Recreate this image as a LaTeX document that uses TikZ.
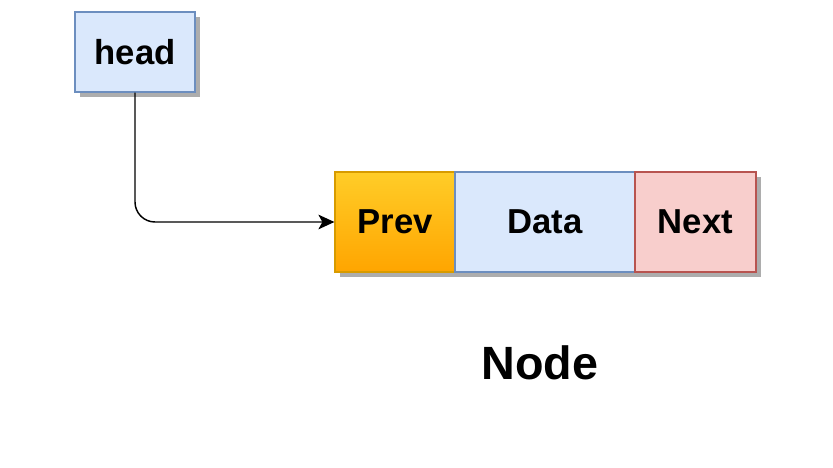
\documentclass[tikz,border=0pt]{standalone}
\usepackage{fontspec}
\setmainfont{Liberation Sans}
\usepackage{xcolor}
\usetikzlibrary{positioning,shadows,arrows.meta}

\definecolor{bluefill}{HTML}{DAE8FC}
\definecolor{blueline}{HTML}{6C8EBF}
\definecolor{redfill}{HTML}{F8CECC}
\definecolor{redline}{HTML}{B85450}
\definecolor{orangetop}{HTML}{FFCD28}
\definecolor{orangebot}{HTML}{FFA500}
\definecolor{orangeline}{HTML}{D79B00}

\begin{document}
\begin{tikzpicture}[x=0.75pt,y=-0.75pt,thick,node distance=0pt,
    cell/.style={draw,line width=0.9pt,minimum height=75pt,inner sep=0pt,font=\fontsize{26}{30}\selectfont\bfseries,
        drop shadow={shadow xshift=3.5pt,shadow yshift=-3.5pt,fill=black!32,opacity=1}},
    blue cell/.style={cell,fill=bluefill,draw=blueline},
    red cell/.style={cell,fill=redfill,draw=redline},
    orange cell/.style={cell,top color=orangetop,bottom color=orangebot,draw=orangeline}]
    \useasboundingbox (0,0) rectangle (833,468);

    \node[blue cell,minimum width=90pt,minimum height=60pt] (head) at (135,52) {head};
    \node[orange cell,minimum width=90pt] (prev) at (395,222) {Prev};
    \node[blue cell,minimum width=135pt] (data) [right=-0.9pt of prev] {Data};
    \node[red cell,minimum width=90.75pt] (next) [right=-0.9pt of data] {Next};
    \node[font=\fontsize{35}{40}\selectfont\bfseries] (label) at (540,363) {Node};

    \draw[-{Stealth[length=12pt,width=11pt,inset=3pt]},line width=1.1pt,rounded corners=15pt] (head.south) |- (prev.west);
\end{tikzpicture}
\end{document}
